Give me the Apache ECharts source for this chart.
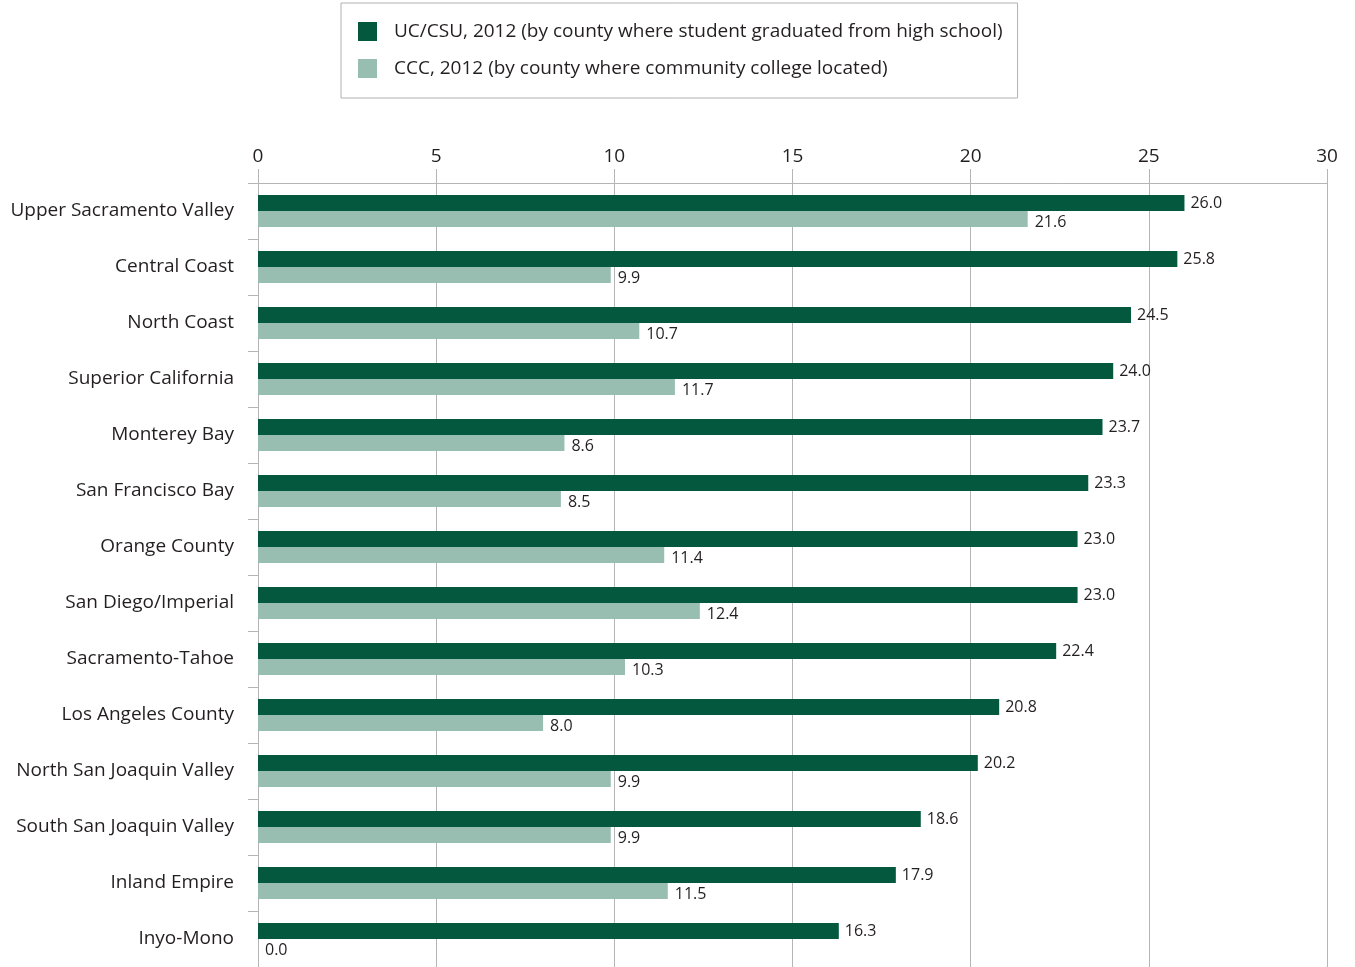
<!DOCTYPE html>
<html>
<head>
<meta charset="utf-8">
<script src="https://cdn.jsdelivr.net/npm/echarts@6/dist/echarts.min.js"></script>
<style>
html,body{margin:0;padding:0;background:#fff;}
#chart{width:1355px;height:967px;}
</style>
</head>
<body>
<div id="chart"></div>
<script>
const categories = ["Upper Sacramento Valley","Central Coast","North Coast","Superior California","Monterey Bay","San Francisco Bay","Orange County","San Diego/Imperial","Sacramento-Tahoe","Los Angeles County","North San Joaquin Valley","South San Joaquin Valley","Inland Empire","Inyo-Mono"];
const ucCsu = [26.0,25.8,24.5,24.0,23.7,23.3,23.0,23.0,22.4,20.8,20.2,18.6,17.9,16.3];
const ccc = [21.6,9.9,10.7,11.7,8.6,8.5,11.4,12.4,10.3,8.0,9.9,9.9,11.5,0.0];
const seriesNames = ["UC/CSU, 2012 (by county where student graduated from high school)","CCC, 2012 (by county where community college located)"];
const xTicks = [0,5,10,15,20,25,30];

const FONT = "'Open Sans', sans-serif";
const TXT = "#231f20";
const GRID = "#b5b5b5";
const chart = echarts.init(document.getElementById('chart'), null, {renderer:'canvas'});
chart.setOption({
  backgroundColor:'#fff',
  animation:false,
  textStyle:{fontFamily:FONT,color:TXT},
  legend:{
    orient:'vertical',
    left:341, top:3,
    padding:[19,15,20,17],
    itemGap:18,
    itemWidth:19, itemHeight:19,
    borderColor:'#b0b0b0', borderWidth:1,
    icon:'rect',
    textStyle:{fontFamily:FONT,fontSize:19,color:TXT,padding:[0,0,0,12]},
    data:seriesNames
  },
  grid:{left:258,right:28,top:183,bottom:0,containLabel:false},
  xAxis:{
    type:'value',position:'top',min:xTicks[0],max:xTicks[xTicks.length-1],interval:5,
    axisLine:{show:true,lineStyle:{color:GRID,width:1}},
    axisTick:{show:true,length:14,lineStyle:{color:GRID}},
    splitLine:{show:true,lineStyle:{color:GRID,width:1}},
    axisLabel:{fontFamily:FONT,fontSize:19,color:TXT,margin:17}
  },
  yAxis:{
    type:'category',inverse:true,data:categories,
    axisLine:{show:true,lineStyle:{color:GRID}},
    axisTick:{show:true,length:10,lineStyle:{color:GRID}},
    axisLabel:{fontFamily:FONT,fontSize:19,color:TXT,margin:24}
  },
  series:[
    {name:seriesNames[0],type:'bar',data:ucCsu,barWidth:16,barGap:'0%',
     itemStyle:{color:'#03583d'},
     label:{show:true,position:'right',distance:6,fontFamily:FONT,fontSize:16,color:TXT,
       formatter:p=>p.value.toFixed(1)}},
    {name:seriesNames[1],type:'bar',data:ccc,barWidth:16,
     itemStyle:{color:'#97beb1'},
     label:{show:true,position:'right',distance:7,offset:[0,3],fontFamily:FONT,fontSize:16,color:TXT,
       formatter:p=>p.value.toFixed(1)}}
  ]
});
</script>
</body>
</html>
